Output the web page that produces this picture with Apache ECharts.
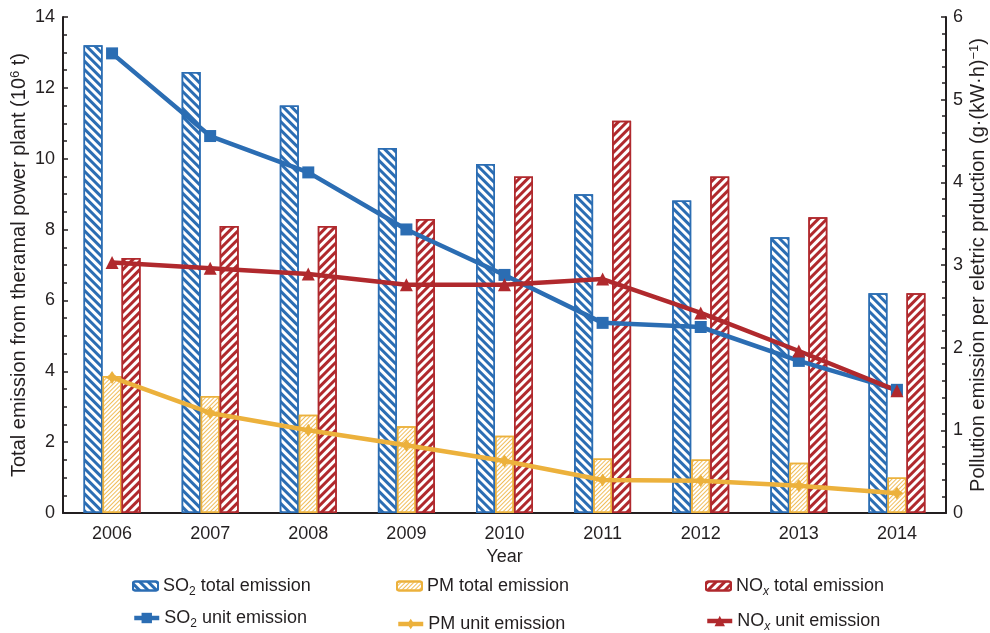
<!DOCTYPE html>
<html>
<head>
<meta charset="utf-8">
<script src="https://cdn.jsdelivr.net/npm/echarts@6/dist/echarts.min.js"></script>
<style>
html,body{margin:0;padding:0;background:#fff;}
#chart{width:990px;height:633px;}
</style>
</head>
<body>
<div id="chart"></div>
<script>
const years = ['2006','2007','2008','2009','2010','2011','2012','2013','2014'];
const so2Total = [13.2, 12.45, 11.5, 10.3, 9.85, 9.0, 8.82, 7.78, 6.2];
const pmTotal  = [3.87, 3.3, 2.77, 2.45, 2.18, 1.54, 1.51, 1.42, 1.0];
const noxTotal = [7.2, 8.1, 8.1, 8.3, 9.5, 11.07, 9.5, 8.35, 6.2];
const so2Unit  = [5.56, 4.56, 4.12, 3.43, 2.88, 2.30, 2.25, 1.84, 1.49];
const pmUnit   = [1.64, 1.21, 1.0, 0.82, 0.63, 0.40, 0.39, 0.33, 0.24];
const noxUnit  = [3.03, 2.96, 2.89, 2.76, 2.76, 2.83, 2.42, 1.96, 1.48];
const leftTicks = {min: 0, max: 14, interval: 2};
const rightTicks = {min: 0, max: 6, interval: 1};

const BLUE = '#2b6db3', ORANGE = '#ecb13c', RED = '#b0292d', INK = '#231f20';
const FONT = 'Liberation Sans';

const legendLabels = {
  'SO2 total emission': 'SO{sub|2} total emission',
  'PM total emission': 'PM total emission',
  'NOx total emission': 'NO{subi|x} total emission',
  'SO2 unit emission': 'SO{sub|2} unit emission',
  'PM unit emission': 'PM unit emission',
  'NOx unit emission': 'NO{subi|x} unit emission'
};
const richSub = {
  sub: {fontSize: 12, fontFamily: FONT, color: INK, verticalAlign: 'bottom', lineHeight: 24},
  subi: {fontSize: 12, fontFamily: FONT, color: INK, fontStyle: 'italic', verticalAlign: 'bottom', lineHeight: 24}
};
function mkLegend(name, left, top, isLine) {
  const l = {
    data: [name], left: left, top: top, itemWidth: 25, itemHeight: isLine ? 13 : 9, itemGap: 5, padding: 0,
    formatter: n => legendLabels[n],
    textStyle: {fontFamily: FONT, fontSize: 18, color: INK, lineHeight: 24, rich: richSub}
  };
  if (isLine) l.lineStyle = {width: 4.5};
  return l;
}
const NAME_SIZE = 20;

const chart = echarts.init(document.getElementById('chart'));
chart.setOption({
  animation: false,
  backgroundColor: '#fff',
  grid: {left: 63, right: 44, top: 17, bottom: 120, containLabel: false, outerBoundsMode: 'none'},
  legend: [
    mkLegend('SO2 total emission', 132, 574, false),
    mkLegend('PM total emission', 396, 574, false),
    mkLegend('NOx total emission', 705, 574, false),
    mkLegend('SO2 unit emission', 132, 606, true),
    mkLegend('PM unit emission', 396, 612, true),
    mkLegend('NOx unit emission', 705, 609, true)
  ],
  xAxis: {
    type: 'category', data: years,
    name: 'Year', nameLocation: 'middle', nameGap: 35, nameMoveOverlap: false,
    nameTextStyle: {fontFamily: FONT, fontSize: 18, color: INK},
    axisLine: {lineStyle: {color: INK, width: 2}},
    axisTick: {show: false},
    axisLabel: {fontFamily: FONT, fontSize: 18, color: INK, margin: 12}
  },
  yAxis: [
    {
      type: 'value', position: 'left', min: leftTicks.min, max: leftTicks.max, interval: leftTicks.interval,
      name: 'Total emission from theramal power plant (10{sup|6} t)',
      nameLocation: 'middle', nameGap: 34, nameRotate: 90, nameMoveOverlap: false,
      nameTextStyle: {fontFamily: FONT, fontSize: NAME_SIZE, color: INK,
        rich: {sup: {fontSize: 13, fontFamily: FONT, color: INK, verticalAlign: 'top'}}},
      axisLine: {show: true, lineStyle: {color: INK, width: 2}},
      axisTick: {show: true, inside: true, length: 5, lineStyle: {color: INK, width: 1.5}},
      minorTick: {show: true, splitNumber: 4, length: 4, lineStyle: {color: INK, width: 1.5}},
      splitLine: {show: false},
      axisLabel: {fontFamily: FONT, fontSize: 18, color: INK, margin: 8}
    },
    {
      type: 'value', position: 'right', min: rightTicks.min, max: rightTicks.max, interval: rightTicks.interval,
      name: 'Pollution emission per eletric prduction (g·(kW·h){sup|−1})',
      nameLocation: 'middle', nameGap: 22, nameRotate: 90, nameMoveOverlap: false,
      nameTextStyle: {fontFamily: FONT, fontSize: NAME_SIZE, color: INK,
        rich: {sup: {fontSize: 13, fontFamily: FONT, color: INK, verticalAlign: 'top'}}},
      axisLine: {show: true, lineStyle: {color: INK, width: 2}},
      axisTick: {show: true, inside: true, length: 5, lineStyle: {color: INK, width: 1.5}},
      minorTick: {show: true, splitNumber: 5, length: 4, lineStyle: {color: INK, width: 1.5}},
      splitLine: {show: false},
      axisLabel: {fontFamily: FONT, fontSize: 18, color: INK, margin: 7}
    }
  ],
  series: [
    {
      name: 'SO2 total emission', type: 'bar', data: so2Total, barWidth: 19, barGap: '0%',
      itemStyle: {color: '#ffffff', borderColor: BLUE, borderWidth: 1.5,
        decal: {symbol: 'rect', symbolSize: 1, dashArrayX: [1, 0], dashArrayY: [3, 2.8], rotation: Math.PI / 4, color: BLUE}}
    },
    {
      name: 'PM total emission', type: 'bar', data: pmTotal, barWidth: 19, barGap: '0%',
      itemStyle: {color: '#ffffff', borderColor: ORANGE, borderWidth: 1.5,
        decal: {symbol: 'rect', symbolSize: 1, dashArrayX: [1, 0], dashArrayY: [1, 1.6], rotation: -Math.PI / 4, color: '#f0bd5a'}}
    },
    {
      name: 'NOx total emission', type: 'bar', data: noxTotal, barWidth: 19, barGap: '0%',
      itemStyle: {color: '#ffffff', borderColor: RED, borderWidth: 1.5,
        decal: {symbol: 'rect', symbolSize: 1, dashArrayX: [1, 0], dashArrayY: [3, 2.8], rotation: -Math.PI / 4, color: RED}}
    },
    {
      name: 'SO2 unit emission', type: 'line', yAxisIndex: 1, data: so2Unit, z: 5,
      symbol: 'rect', symbolSize: 12, lineStyle: {color: BLUE, width: 4.5}, itemStyle: {color: BLUE}
    },
    {
      name: 'PM unit emission', type: 'line', yAxisIndex: 1, data: pmUnit, z: 5,
      symbol: 'path://M0,-10 L4,-4 L10,0 L4,4 L0,10 L-4,4 L-10,0 L-4,-4 Z', symbolSize: 13,
      lineStyle: {color: ORANGE, width: 4.5}, itemStyle: {color: ORANGE}
    },
    {
      name: 'NOx unit emission', type: 'line', yAxisIndex: 1, data: noxUnit, z: 5,
      symbol: 'triangle', symbolSize: 13, lineStyle: {color: RED, width: 4.5}, itemStyle: {color: RED}
    }
  ]
});
</script>
</body>
</html>
